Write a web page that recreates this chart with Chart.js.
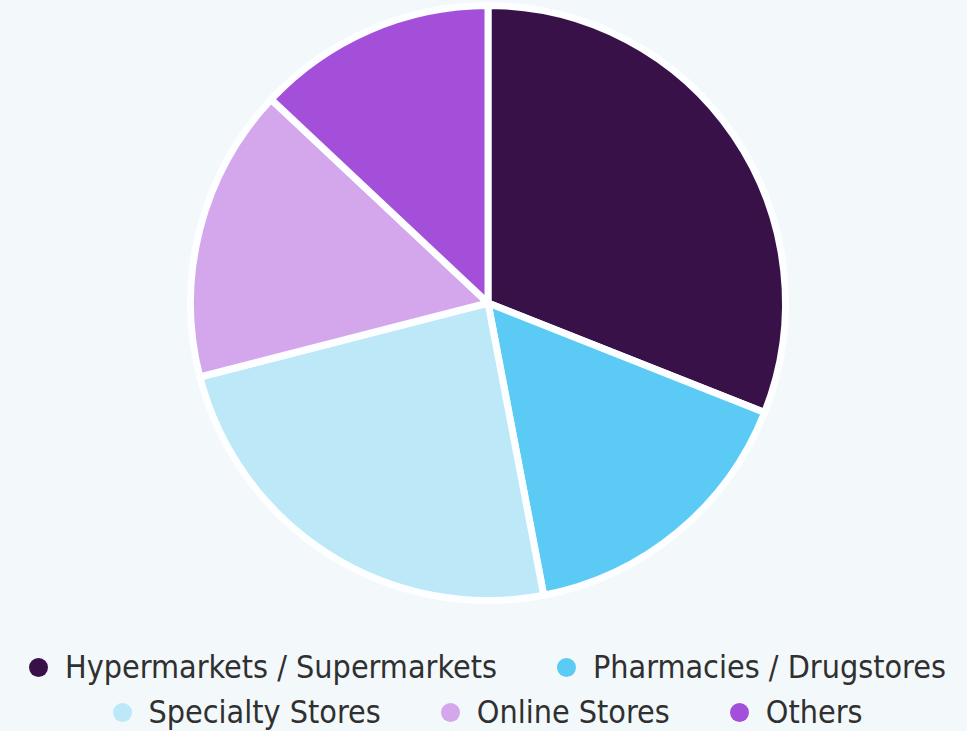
<!DOCTYPE html>
<html>
<head>
<meta charset="utf-8">
<script src="https://cdn.jsdelivr.net/npm/chart.js@4.4.1/dist/chart.umd.min.js"></script>
<style>
  html, body {
    margin: 0;
    padding: 0;
    background: #f3f8fb;
    width: 967px;
    height: 731px;
    overflow: hidden;
  }
  #wrap {
    position: absolute;
    left: 0;
    top: 0;
    width: 967px;
    height: 606px;
  }
  #legend {
    position: absolute;
    left: 8px;
    top: 645px;
    width: 959px;
    display: flex;
    flex-wrap: wrap;
    justify-content: center;
    column-gap: 60px;
    font-family: "DejaVu Sans Condensed", "DejaVu Sans", sans-serif;
    font-size: 32px;
    line-height: 45px;
    color: #303030;
  }
  .item {
    display: flex;
    align-items: center;
    white-space: nowrap;
  }
  .dot {
    width: 19px;
    height: 19px;
    border-radius: 50%;
    margin-right: 17px;
  }
</style>
</head>
<body>
<div id="wrap"><canvas id="pieChart"></canvas></div>
<div id="legend"></div>
<script>
const channels = ['Hypermarkets / Supermarkets', 'Pharmacies / Drugstores', 'Specialty Stores', 'Online Stores', 'Others'];
const shares = [31, 16, 24, 16, 13];
const colors = ['#371147', '#5bcaf5', '#bde8f8', '#d4a7ec', '#a44fda'];

const ctx = document.getElementById('pieChart').getContext('2d');

const pieChart = new Chart(ctx, {
    type: 'pie',
    data: {
        labels: channels,
        datasets: [{
            data: shares,
            backgroundColor: colors,
            borderColor: '#fcfeff',
            borderWidth: 7
        }]
    },
    options: {
        responsive: true,
        maintainAspectRatio: false,
        animation: false,
        layout: {
            padding: { left: 9, top: 2, bottom: 2 }
        },
        plugins: {
            legend: { display: false },
            tooltip: { enabled: false }
        }
    }
});

// legend below the pie, built from the same labels and colours
const legend = document.getElementById('legend');
channels.forEach(function(name, i) {
    const item = document.createElement('div');
    item.className = 'item';
    const dot = document.createElement('span');
    dot.className = 'dot';
    dot.style.background = colors[i];
    const text = document.createElement('span');
    text.textContent = name;
    item.appendChild(dot);
    item.appendChild(text);
    legend.appendChild(item);
});
</script>
</body>
</html>
